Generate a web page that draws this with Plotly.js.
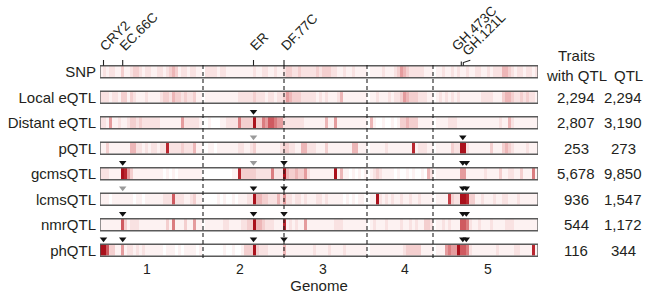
<!DOCTYPE html>
<html><head><meta charset="utf-8">
<script src="https://cdn.plot.ly/plotly-3.0.1.min.js"></script>
<style>html,body{margin:0;padding:0;background:#fff}</style>
</head><body><div id="chart" style="width:650px;height:297px"></div>
<script>
// ---------- data ----------
const chromosomes = ['1', '2', '3', '4', '5'];
const chromLengths = [103, 81, 83, 66, 105];          // genome units
const chromLabelPos = [47, 140, 223, 305, 388];
const binWidth = 3;

const rowNames = ['SNP', 'Local eQTL', 'Distant eQTL', 'pQTL', 'gcmsQTL', 'lcmsQTL', 'nmrQTL', 'phQTL'];
const traitsWithQTL = ['', '2,294', '2,807', '253', '5,678', '936', '544', '116'];
const qtlCounts = ['', '2,294', '3,190', '273', '9,850', '1,547', '1,172', '344'];

const geneNames = ['CRY2', 'EC.66C', 'ER', 'DF.77C', 'GH.473C', 'GH.121L'];
const genePos = [3.5, 22.7, 153.5, 184, 362.8, 366.3];

// hotspot intensity per genome bin (0 = none, 10 = strongest)
const snp = [1,2,1,2,2,1,1,3,1,1, 2,3,3,2,1,2,2,1,1,2, 2,1,2,3,4,3,1,2,2,1, 2,2,1,1,0,2,2,2,2,1,
  2,2,1,1,1,1,1,1,1,1, 1,2,1,1,2,2,1,1,2,1, 1,2,3,3,2,2,3,2,2,2, 2,2,3,2,3,3,3,2,2,1,
  1,2,1,1,2,1,1,1,1,0, 1,1,1,1,2,1,1,1,2,3, 5,4,3,2,2,2,2,2,1,1, 1,0,1,1,2,1,1,2,1,2,
  1,1,2,1,1,2,2,1,1,2, 1,2,2,2,4,4,3,2,1,2, 2,1,2,2,1,2];
const localEqtl = [2,2,2,1,2,2,1,3,3,1, 3,2,1,1,1,2,1,1,1,1, 2,3,3,2,4,3,3,2,3,2, 2,3,1,1,0,1,1,1,1,1,
  1,1,1,1,1,1,2,2,2,2, 2,3,2,2,2,1,2,2,1,2, 2,3,5,4,3,3,3,2,2,2, 2,2,1,2,1,2,1,1,1,2,
  4,1,1,1,1,1,1,1,1,0, 1,1,2,1,1,1,2,1,2,2, 3,5,4,3,3,3,2,2,2,1, 1,0,1,2,1,2,1,2,1,2,
  1,1,1,1,1,1,1,2,2,2, 2,1,1,1,3,4,4,3,2,2, 3,2,3,2,2,1];
const distantEqtl = [2,2,1,5,1,1,2,1,1,2, 3,3,2,3,2,2,2,2,2,2, 1,1,1,1,1,1,1,5,2,2, 2,2,2,1,0,0,1,0,0,0,
  1,1,2,2,2,2,6,3,3,3, 3,10,3,3,6,5,7,7,6,5, 5,2,2,2,2,2,2,2,1,1, 1,1,1,1,1,4,1,1,5,1,
  1,1,1,1,1,1,1,1,1,0, 4,1,0,0,1,0,0,1,0,1, 3,3,4,3,3,3,1,1,1,1, 1,0,1,1,1,1,2,2,2,1,
  1,1,1,1,1,1,1,1,1,1, 1,1,1,2,1,1,4,2,1,1, 1,1,1,1,1,1];
const pQtl = [1,1,3,1,1,1,1,1,1,1, 4,4,2,2,1,2,1,2,2,1, 2,2,9,2,2,2,2,3,2,2, 2,4,1,1,0,0,1,1,0,1,
  1,1,1,1,1,1,2,2,1,1, 2,3,1,1,1,1,1,1,1,1, 2,3,3,2,2,1,1,4,4,2, 2,2,1,1,1,3,1,1,1,1,
  1,1,1,1,4,4,1,1,1,0, 1,1,1,1,1,2,1,1,1,1, 1,1,1,1,9,1,2,2,2,1, 1,0,1,1,1,1,1,3,2,2,
  10,10,2,1,1,1,1,1,1,1, 3,1,1,1,3,4,3,2,1,1, 1,1,2,1,1,1];
const gcmsQtl = [2,2,2,1,1,1,1,10,9,5, 3,1,1,1,1,1,1,1,1,1, 1,0,1,0,1,0,1,1,1,1, 1,1,1,1,0,0,0,0,0,0,
  0,0,0,0,1,1,9,3,3,3, 3,3,2,2,2,2,2,6,2,2, 2,10,4,3,3,4,3,3,5,2, 1,1,1,1,1,1,1,1,10,1,
  4,1,1,0,1,0,1,0,1,0, 1,2,3,2,1,1,1,1,0,1, 0,0,1,0,1,0,0,1,0,4, 2,0,1,1,1,1,1,1,1,1,
  5,5,1,1,1,1,1,1,2,1, 1,1,1,3,1,1,2,2,1,1, 3,1,1,1,6,1];
const lcmsQtl = [1,1,1,0,1,1,1,1,1,1, 1,0,1,1,0,1,1,1,1,1, 1,2,2,2,7,2,2,2,1,1, 2,3,1,1,0,0,0,0,0,1,
  0,1,0,0,1,0,1,1,1,2, 2,10,4,4,3,3,2,2,2,4, 2,5,2,2,1,2,2,1,2,1, 1,1,2,2,1,2,1,1,1,1,
  1,0,1,0,1,0,1,1,0,0, 1,1,10,2,1,2,1,2,1,1, 2,1,1,2,1,1,2,1,1,1, 1,0,1,1,1,1,8,3,2,2,
  10,10,9,3,3,1,1,2,1,1, 1,2,1,1,2,2,1,1,1,2, 1,1,1,1,1,1];
const nmrQtl = [1,1,1,1,1,1,1,7,3,1, 2,2,2,1,1,1,1,1,1,1, 1,1,3,1,6,1,1,1,3,1, 1,5,1,1,0,1,1,1,1,1,
  1,2,2,1,1,1,1,2,2,3, 3,10,4,4,3,2,2,2,1,1, 1,9,1,2,1,2,1,1,5,1, 1,1,1,1,1,1,1,1,2,2,
  2,1,1,1,1,1,1,1,1,0, 1,2,1,1,1,2,1,1,1,1, 2,1,1,2,1,2,1,1,3,3, 2,0,1,1,2,1,2,1,1,1,
  7,7,6,2,1,1,2,1,1,1, 2,1,1,1,1,2,2,2,1,1, 1,1,1,1,1,1];
const phQtl = [10,10,7,3,3,1,1,5,1,2, 2,1,2,1,2,1,1,1,1,1, 1,0,1,1,1,0,1,0,1,1, 1,1,0,1,0,0,0,0,0,0,
  0,1,0,0,1,0,0,1,3,3, 3,10,3,2,2,2,1,1,1,1, 1,4,1,1,1,1,1,1,1,1, 1,2,1,1,1,1,2,1,1,1,
  1,2,1,1,1,1,1,1,1,0, 1,1,1,1,1,1,1,1,1,1, 1,2,3,3,3,3,3,1,1,1, 1,0,1,1,1,5,6,5,5,10,
  7,7,6,2,1,1,1,1,1,1, 1,1,2,1,1,1,1,1,2,2, 1,1,1,1,9,1];

// QTL hotspot arrows: row index, gene index, shade (1 = black, 0 = grey)
const arrowRow   = [2, 3, 3, 4, 4, 4, 4, 4, 5, 5, 5, 5, 5, 6, 6, 6, 6, 6, 7, 7, 7, 7, 7, 7];
const arrowGene  = [2, 2, 4, 1, 2, 3, 4, 5, 1, 2, 3, 4, 5, 1, 2, 3, 4, 5, 0, 1, 2, 3, 4, 5];
const arrowShade = [1, 0, 1, 1, 0, 1, 1, 1, 0, 1, 1, 1, 1, 1, 1, 1, 1, 1, 1, 1, 1, 1, 1, 1];

// ---------- build ----------
const FONT = 'Liberation Sans, Arial, Helvetica, sans-serif';
const TXT = '#231f20';
const genomeLen = chromLengths.reduce((a, b) => a + b, 0);
const boundaries = [];
let acc = 0;
for (let i = 0; i < chromLengths.length - 1; i++) { acc += chromLengths[i]; boundaries.push(acc); }

const zRows = [snp, localEqtl, distantEqtl, pQtl, gcmsQtl, lcmsQtl, nmrQtl, phQtl];
const rowIdx = rowNames.map((_, i) => i);

const heat = {
  type: 'heatmap',
  z: zRows,
  x0: binWidth / 2, dx: binWidth,
  y: rowIdx,
  zmin: 0, zmax: 10,
  ygap: 13.5,
  showscale: false,
  hoverinfo: 'skip',
  colorscale: [
    [0, '#ffffff'], [0.1, '#fdf2f2'], [0.2, '#f9e2e2'], [0.3, '#f4cfcf'],
    [0.4, '#edb6b7'], [0.5, '#e59c9e'], [0.6, '#db7d80'], [0.7, '#cf5a60'],
    [0.85, '#bf3039'], [1, '#aa111c']
  ]
};

const arrows = {
  type: 'scatter', mode: 'markers',
  x: arrowGene.map(g => genePos[g]),
  y: arrowRow.map(r => r - 0.44),
  marker: { symbol: 'triangle-down', size: 6.5,
            color: arrowShade.map(s => s ? '#111111' : '#9a9a9a'), line: { width: 0 } },
  hoverinfo: 'skip', cliponaxis: false
};

const shapes = [];
rowIdx.forEach(i => shapes.push({
  type: 'rect', xref: 'x', yref: 'y', x0: 0, x1: genomeLen, y0: i - 0.236, y1: i + 0.236,
  line: { color: '#5a5a5a', width: 1.3 }, fillcolor: 'rgba(0,0,0,0)', layer: 'above'
}));
boundaries.forEach(b => shapes.push({
  type: 'line', xref: 'x', yref: 'y', x0: b, x1: b, y0: -0.26, y1: 7.3,
  line: { color: '#222', width: 1.1, dash: '4px,3px' }, layer: 'above'
}));
genePos.slice(0, 4).forEach(g => shapes.push({
  type: 'line', xref: 'x', yref: 'y', x0: g, x1: g, y0: -0.236, y1: -0.46,
  line: { color: '#222', width: 1.1 }
}));
shapes.push({ type: 'line', xref: 'x', yref: 'y', x0: genePos[4] - 1.5, x1: genePos[4] - 1.5, y0: -0.236, y1: -0.40,
  line: { color: '#222', width: 1.1 } });
shapes.push({ type: 'path', xref: 'x', yref: 'y',
  path: `M ${genePos[4] + 0.5} -0.236 L ${genePos[4] + 0.5} -0.36 L ${genePos[5] + 4} -0.45`,
  line: { color: '#222', width: 1.1 } });

const annotations = [];
const labelShiftX = [0, 0, 0, 0, -8, 0];
const labelShiftY = [0, 0, 0, 0, 0, -5];
geneNames.forEach((n, i) => annotations.push({
  text: n, x: genePos[i], xref: 'x', y: 1.012, yref: 'paper',
  xanchor: 'left', yanchor: 'bottom', textangle: -45, showarrow: false,
  xshift: -9 + labelShiftX[i], yshift: labelShiftY[i],
  font: { family: FONT, size: 13.5, color: TXT }
}));
const colTraitsX = 1.0868, colQtlX = 1.1941;
annotations.push({ text: 'Traits', x: colTraitsX, xref: 'paper', y: 1.0196, yref: 'paper',
  showarrow: false, xanchor: 'center', yanchor: 'middle', font: { family: FONT, size: 15, color: TXT } });
annotations.push({ text: 'with QTL', x: colTraitsX, xref: 'paper', y: 0.13, yref: 'y',
  showarrow: false, xanchor: 'center', yanchor: 'middle', font: { family: FONT, size: 15, color: TXT } });
annotations.push({ text: 'QTL', x: colQtlX + 0.012, xref: 'paper', y: 0.13, yref: 'y',
  showarrow: false, xanchor: 'center', yanchor: 'middle', font: { family: FONT, size: 15, color: TXT } });
rowIdx.forEach(i => {
  if (!traitsWithQTL[i]) return;
  annotations.push({ text: traitsWithQTL[i], x: colTraitsX, xref: 'paper', y: i, yref: 'y',
    showarrow: false, xanchor: 'center', yanchor: 'middle', font: { family: FONT, size: 15, color: TXT } });
  annotations.push({ text: qtlCounts[i], x: colQtlX, xref: 'paper', y: i, yref: 'y',
    showarrow: false, xanchor: 'center', yanchor: 'middle', font: { family: FONT, size: 15, color: TXT } });
});

const layout = {
  width: 650, height: 297,
  margin: { l: 100, r: 112, t: 59, b: 34, pad: 0 },
  paper_bgcolor: '#ffffff', plot_bgcolor: '#ffffff',
  showlegend: false,
  font: { family: FONT, color: TXT },
  xaxis: {
    range: [0, genomeLen], showgrid: false, zeroline: false, showline: false, ticks: '',
    tickvals: chromLabelPos, ticktext: chromosomes, tickfont: { size: 14, color: TXT },
    ticklabelstandoff: -4,
    title: { text: 'Genome', font: { size: 15, color: TXT }, standoff: 4 },
    fixedrange: true
  },
  yaxis: {
    range: [7.5, -0.5], showgrid: false, zeroline: false, showline: false, ticks: '',
    tickvals: rowIdx, ticktext: rowNames, tickfont: { size: 15, color: TXT },
    ticklabelstandoff: 3, fixedrange: true
  },
  shapes: shapes,
  annotations: annotations
};

Plotly.newPlot('chart', [heat, arrows], layout, { staticPlot: true, displayModeBar: false });
</script></body></html>
